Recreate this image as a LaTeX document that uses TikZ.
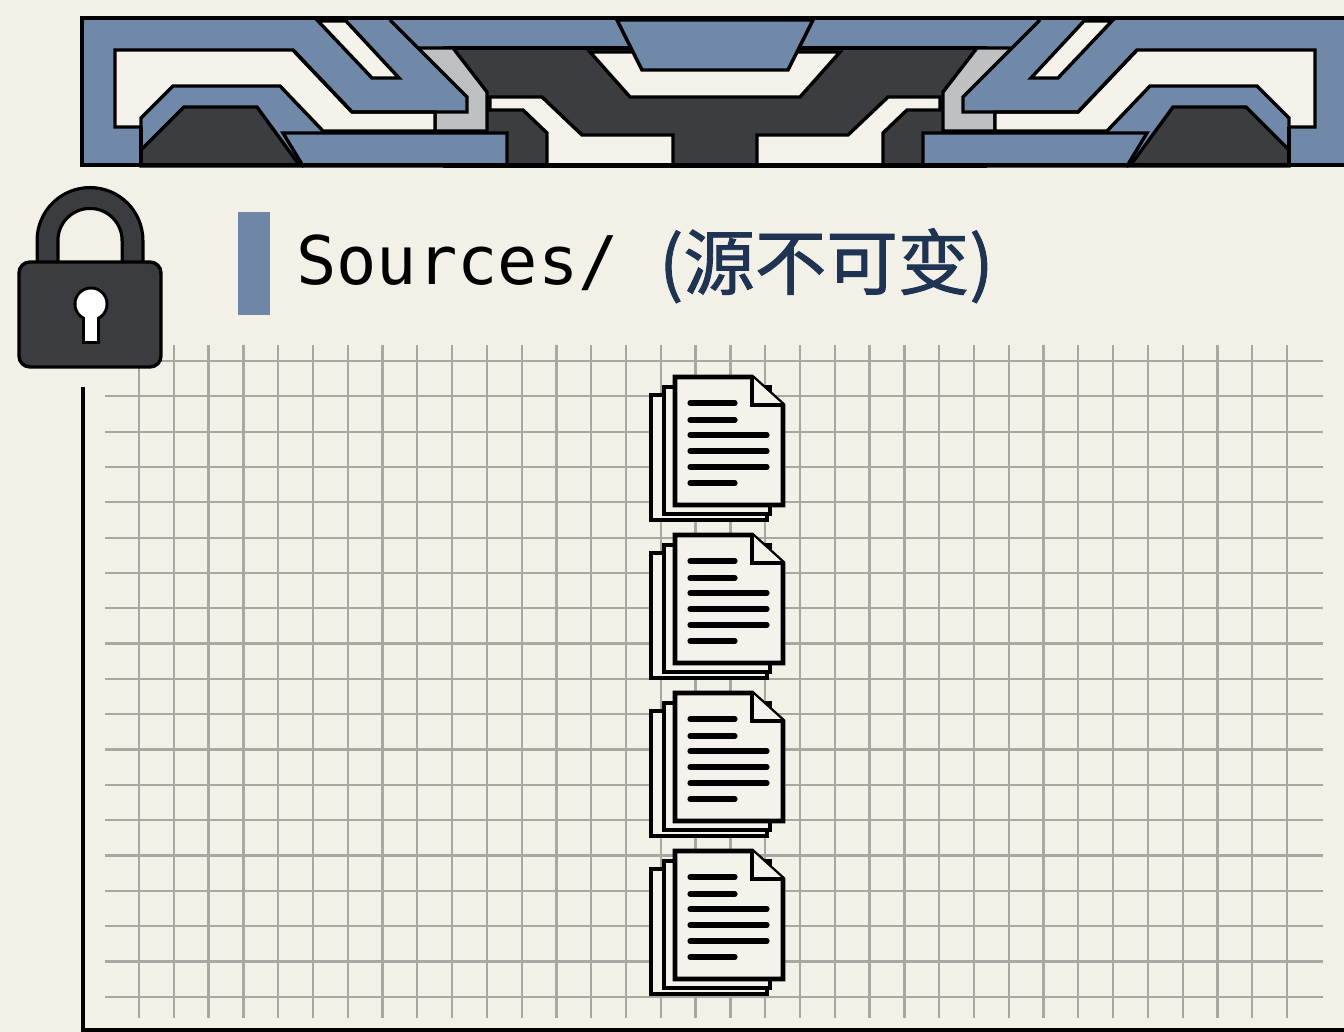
\documentclass[tikz,border=0pt]{standalone}
\usepackage{fontspec}
\setmonofont{DejaVu Sans Mono}
\newfontfamily\cjk[FakeBold=1.2]{Noto Sans CJK SC}
\definecolor{paper}{HTML}{F3F1E7}
\definecolor{bblue}{HTML}{7189A9}
\definecolor{bdark}{HTML}{3C3D41}
\definecolor{bgrey}{HTML}{BEC0C1}
\definecolor{bwhite}{HTML}{F4F2EA}
\definecolor{gridgrey}{HTML}{A9A7A1}
\definecolor{lockgrey}{HTML}{3B3C40}
\definecolor{barblue}{HTML}{6F86A6}
\definecolor{noteblue}{HTML}{1F3452}
\definecolor{pagefill}{HTML}{F4F2EB}

% one half of the ornamental header band (mirrored for the other half)
\newcommand\bannerside{%
  \draw[bline, fill=bgrey] (418,48) -- (453,48) -- (487,92) -- (487,131) -- (435,131) -- (435,100) -- (418,100) -- cycle;
  \fill[bblue] (240,21) -- (390,21) -- (467,97) -- (467,112) -- (352,112) -- (293,50) -- (240,50) -- cycle;
  \draw[bline, fill=bwhite] (115,50) -- (293,50) -- (352,112) -- (435,112) -- (435,131) -- (323,131) -- (280,86) -- (173,86) -- (141,118) -- (141,127) -- (115,127) -- cycle;
  \draw[bline] (390,20) -- (467,97) -- (467,112) -- (352,112) -- (293,50);
  \draw[bline, fill=bwhite] (318,21) -- (346,21) -- (399,78) -- (372,78) -- cycle;
  \draw[bline, fill=bdark] (141,166) -- (141,150) -- (184,107) -- (257,107) -- (300,166) -- cycle;
  \draw[bline] (141,127) -- (141,166);
  \draw[bline, fill=bblue] (283,133) -- (507,133) -- (507,166) -- (303,166) -- cycle;
  \draw[bline, fill=bwhite] (490,97) -- (542,97) -- (582,135) -- (673,135) -- (673,166) -- (547,166) -- (547,133) -- (523,110) -- (490,110) -- cycle;
}

\tikzset{
  bline/.style={line width=3.4pt, line join=miter},
  gridline/.style={line width=2.3pt, gridgrey},
  frameline/.style={line width=4pt, black},
  docline/.style={line width=4.8pt, black, line join=miter, fill=pagefill},
  textline/.style={line width=5.2pt, black, line cap=round},
  docstack/.pic={
    \draw[docline] (-24,18) rectangle (92,143);
    \draw[docline] (-11,10) rectangle (95,137);
    \draw[docline] (0,0) -- (77,0) -- (108,28) -- (108,128) -- (0,128) -- cycle;
    \draw[docline] (77,0) -- (77,28) -- (108,28);
    \foreach \yy/\len in {26/60, 43/60, 58/92, 74/92, 90/92, 106/60}
      \draw[textline] (15,\yy) -- (\len,\yy);
  }
}

\begin{document}
\begin{tikzpicture}[x=1pt, y=-1pt]
\useasboundingbox (0,0) rectangle (1344,1032);
\fill[paper] (0,0) rectangle (1344,1032);

% ---- header band ----
\fill[bblue] (82,18) rectangle (1350,165);
\draw[bline, fill=bdark] (445,48) rectangle (985,166);
\bannerside
\begin{scope}[xshift=1430pt, xscale=-1]
  \bannerside
\end{scope}
\draw[bline, fill=bwhite] (590,52) -- (840,52) -- (800,97) -- (630,97) -- cycle;
\draw[bline, fill=bblue] (617,20) -- (813,20) -- (788,70) -- (642,70) -- cycle;
\draw[line width=4.2pt] (82,18) rectangle (1350,165);

% ---- squared paper ----
\foreach \i in {0,...,33}
  \draw[gridline] ({139+\i*34.79},345) -- ({139+\i*34.79},1018);
\foreach \j in {0,...,18}
  \draw[gridline] (105,{361+\j*35.33}) -- (1323,{361+\j*35.33});
\coordinate (frametop) at (83,387);
\coordinate (framecorner) at (83,1030);
\coordinate (frameend) at (1350,1030);
\draw[frameline] (frametop) -- (framecorner) -- (frameend);

% ---- padlock ----
\draw[line width=24pt, black, rounded corners=42.5pt] (47.5,275) -- (47.5,198) -- (132.5,198) -- (132.5,275);
\draw[line width=17.5pt, lockgrey, rounded corners=42.5pt] (47.5,275) -- (47.5,198) -- (132.5,198) -- (132.5,275);
\draw[line width=3.4pt, fill=lockgrey, rounded corners=11pt] (19,262) rectangle (161,367);
\draw[line width=6pt] (91,304) circle[radius=14.5];
\draw[line width=6pt] (85,306) rectangle (97,341);
\fill[white] (91,304) circle[radius=14.5];
\fill[white] (85,306) rectangle (97,341);

% ---- heading ----
\fill[barblue] (238,212) rectangle (270,315);
\node[anchor=base west, inner sep=0pt, font=\ttfamily\fontsize{67}{80}\selectfont] (title) at (296,285) {Sources/};
\node[anchor=base west, inner sep=0pt, font=\cjk\fontsize{71.5}{80}\selectfont, text=noteblue] (note) at (659,289) {(源不可变)};

% ---- stacked documents ----
\foreach \k in {0,...,3}
  \pic (docs\k) at (675,{377+\k*158}) {docstack};
\end{tikzpicture}
\end{document}
